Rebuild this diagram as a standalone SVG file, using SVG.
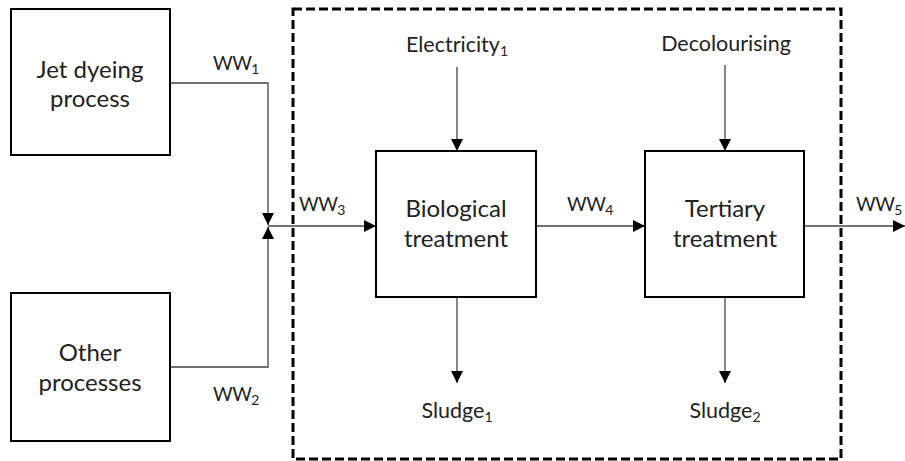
<svg xmlns="http://www.w3.org/2000/svg" width="905" height="461" viewBox="0 0 905 461">
<defs>
<marker id="ah" markerWidth="12" markerHeight="12" refX="12" refY="6" orient="auto" markerUnits="userSpaceOnUse">
<path d="M0,0 L12,6 L0,12 Z" fill="#000"/>
</marker>
<style>
.box{fill:#fff;stroke:#000;stroke-width:2}
.t{font-family:Lato,"Open Sans",sans-serif;font-size:24px;fill:#222;text-anchor:middle}
.l{font-family:Lato,"Open Sans",sans-serif;font-size:21.5px;fill:#222}
.w{font-family:Lato,"Open Sans",sans-serif;font-size:19px;letter-spacing:-0.5px;fill:#222}
.m{text-anchor:middle}
.s{font-size:14px;letter-spacing:0}
.c{fill:none;stroke:#444;stroke-width:1.3}
.dash{fill:none;stroke:#000;stroke-width:3;stroke-dasharray:9,4}
</style>
</defs>
<rect width="905" height="461" fill="#fff"/>
<rect class="dash" x="293" y="9" width="548" height="450"/>
<g id="connectors">
<path class="c" d="M170,83 H268 V225" marker-end="url(#ah)"/>
<path class="c" d="M170,367 H268 V227" marker-end="url(#ah)"/>
<path class="c" d="M268,226 H376" marker-end="url(#ah)"/>
<path class="c" d="M536,226 H645" marker-end="url(#ah)"/>
<path class="c" d="M804,226 H905" marker-end="url(#ah)"/>
<path class="c" d="M457,67 V151" marker-end="url(#ah)"/>
<path class="c" d="M725,65 V151" marker-end="url(#ah)"/>
<path class="c" d="M457,297 V383" marker-end="url(#ah)"/>
<path class="c" d="M725,297 V383" marker-end="url(#ah)"/>
</g>
<g id="jet">
<rect class="box" x="11" y="9" width="159" height="146"/>
<text class="t" x="90" y="78">Jet dyeing</text>
<text class="t" x="90" y="107">process</text>
</g>
<g id="other">
<rect class="box" x="11" y="293" width="159" height="148"/>
<text class="t" x="90" y="361">Other</text>
<text class="t" x="90" y="391">processes</text>
</g>
<g id="bio">
<rect class="box" x="376" y="151" width="160" height="146"/>
<text class="t" x="456" y="217">Biological</text>
<text class="t" x="456" y="247">treatment</text>
</g>
<g id="tert">
<rect class="box" x="645" y="151" width="159" height="146"/>
<text class="t" x="725" y="217">Tertiary</text>
<text class="t" x="725" y="247">treatment</text>
</g>
<g id="labels">
<text class="w" x="213" y="70">WW<tspan class="s" dy="4">1</tspan></text>
<text class="w" x="213" y="401">WW<tspan class="s" dy="4">2</tspan></text>
<text class="w" x="299" y="211">WW<tspan class="s" dy="4">3</tspan></text>
<text class="w" x="567" y="211">WW<tspan class="s" dy="4">4</tspan></text>
<text class="w" x="856" y="211">WW<tspan class="s" dy="4">5</tspan></text>
<text class="l m" x="457" y="52">Electricity<tspan class="s" dy="4">1</tspan></text>
<text class="l m" x="726" y="51">Decolourising</text>
<text class="l m" x="457" y="418">Sludge<tspan class="s" dy="4">1</tspan></text>
<text class="l m" x="725" y="418">Sludge<tspan class="s" dy="4">2</tspan></text>
</g>
</svg>
